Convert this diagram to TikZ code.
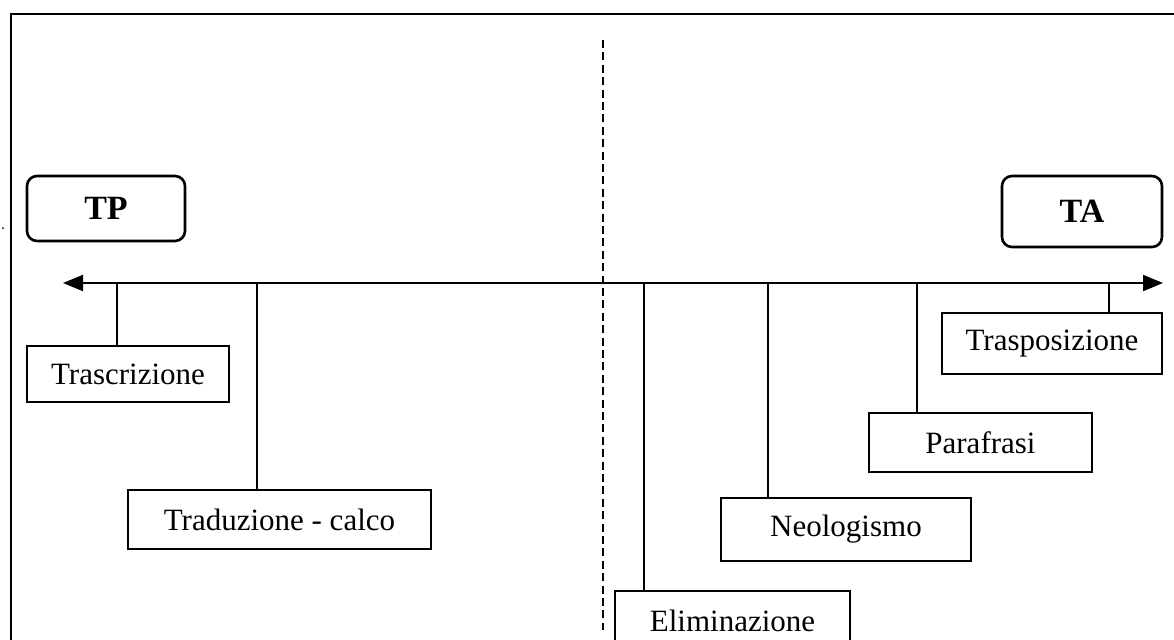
\documentclass[tikz,border=0pt]{standalone}
\usepackage{fontspec}
\setmainfont{Liberation Serif}
\usetikzlibrary{positioning,arrows.meta}
\tikzset{
  proc/.style={draw,line width=1.3pt,fill=white,inner sep=0pt,
               font=\fontsize{15.5}{18}\selectfont},
  pole/.style={proc,rounded corners=5pt,font=\fontsize{17}{20}\selectfont\bfseries},
  axis/.style={{Triangle[length=10pt,width=8pt]}-{Triangle[length=10pt,width=8pt]},line width=1pt},
  tick/.style={line width=1.1pt},
  split/.style={line width=0.9pt,dash pattern=on 4pt off 2.2pt},
}
\begin{document}
\begin{tikzpicture}[x=0.5pt,y=-0.5pt]
  \useasboundingbox (0,0) rectangle (1174,639);
  \clip (0,0) rectangle (1174,639);
  % frame
  \draw[line width=1.4pt] (11,660) -- (11,14) -- (1190,14);
  \fill (3,228) circle (1);
  \draw[split] (603,40) -- (603,630);

  \node[pole,minimum width=79pt,minimum height=32.5pt] (tp) at (106,208.5) {TP};
  \node[pole,minimum width=80pt,minimum height=35.5pt] (ta) at (1082,211.5) {TA};

  \coordinate (left) at (63,283);
  \coordinate (right) at (1163,283);
  \draw[axis] (left) -- (right);

  \node[proc,minimum width=101pt,minimum height=28pt]   (trascr) at (128,374) {Trascrizione};
  \node[proc,minimum width=151.5pt,minimum height=29.5pt] (calco) at (279.5,519.5) {Traduzione - calco};
  \node[proc,minimum width=117.5pt,minimum height=29.5pt] (elim) at (732.5,620.5) {Eliminazione};
  \node[proc,minimum width=125pt,minimum height=31.5pt] (neo) at (846,529.5) {Neologismo};
  \node[proc,minimum width=111.5pt,minimum height=29.5pt] (para) at (980.5,442.5) {Parafrasi};
  \node[proc,minimum width=110pt,minimum height=30.5pt] (trasp) at (1052,343.5) {Trasposizione};

  % ticks from the axis down to the boxes
  \coordinate (a1) at (117,283);
  \coordinate (a2) at (257,283);
  \coordinate (a3) at (644,283);
  \coordinate (a4) at (768,283);
  \coordinate (a5) at (917,283);
  \coordinate (a6) at (1109,283);
  \draw[tick] (a1) -- (a1 |- trascr.north);
  \draw[tick] (a2) -- (a2 |- calco.north);
  \draw[tick] (a3) -- (a3 |- elim.north);
  \draw[tick] (a4) -- (a4 |- neo.north);
  \draw[tick] (a5) -- (a5 |- para.north);
  \draw[tick] (a6) -- (a6 |- trasp.north);
\end{tikzpicture}
\end{document}
